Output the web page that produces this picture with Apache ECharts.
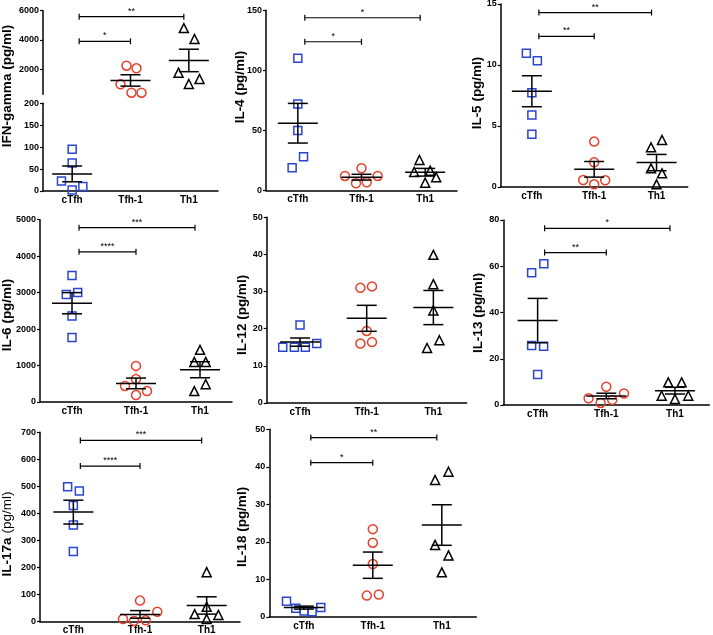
<!DOCTYPE html>
<html><head><meta charset="utf-8">
<script src="https://cdn.jsdelivr.net/npm/echarts@6/dist/echarts.min.js"></script>
<style>html,body{margin:0;padding:0;background:#fff}#c{width:713px;height:635px}</style>
</head><body><div id="c"></div>
<script>
const groups = ['cTfh', 'Tfh-1', 'Th1'];

// IFN-gamma (broken axis)
const ifnG = [[95, 64, 23, 10, 2], [2230, 2050, 955, 380, 380], [4810, 4060, 1750, 976, 1320]];
const ifnGMean = [39, 1220, 2590];
const ifnGSem = [18, 390, 770];
const ifnGSig = [[0, 2, 5590, '**'], [0, 1, 3900, '*']];
const ifnGHighTicks = [2000, 4000, 6000];

const il4 = [[110, 72, 50, 28, 19], [18.5, 12.1, 12.1, 6.0, 6.8], [25.4, 15.4, 16.5, 11, 6.5]];
const il4Mean = [56, 11.1, 15.2];
const il4Sem = [16.5, 2.4, 3.2];
const il4Sig = [[0, 2, 143.8, '*'], [0, 1, 123.8, '*']];

const il5 = [[10.96, 10.35, 7.73, 5.9, 4.32], [3.72, 2.02, 0.57, 0.55, 0.22], [3.85, 3.25, 1.53, 1.12, 0.22]];
const il5Mean = [7.85, 1.45, 2.0];
const il5Sem = [1.27, 0.64, 0.67];
const il5Sig = [[0, 2, 14.3, '**'], [0, 1, 12.35, '**']];

const il6 = [[3470, 2950, 3000, 2360, 1770], [990, 630, 440, 300, 190], [1430, 1100, 1100, 490, 300]];
const il6Mean = [2710, 510, 885];
const il6Sem = [290, 146, 220];
const il6Sig = [[0, 2, 4780, '***'], [0, 1, 4120, '****']];

const il12 = [[21, 15, 15, 15, 16], [31.0, 31.4, 19.4, 16.0, 16.4], [39.9, 32.0, 24.9, 16.9, 14.8]];
const il12Mean = [16.4, 22.8, 25.7];
const il12Sem = [1.1, 3.5, 4.6];
const il12Sig = [];

const il13 = [[61.1, 57.2, 25.7, 25.4, 13.2], [7.9, 5.0, 2.9, 2.2, 0.9], [9.8, 9.8, 4.0, 4.0, 2.6]];
const il13Mean = [36.5, 3.9, 6.2];
const il13Sem = [9.6, 1.2, 1.45];
const il13Sig = [[0, 2, 76.4, '*'], [0, 1, 65.9, '**']];

const il17a = [[499, 483, 429, 357, 259], [78, 37, 10, 3, 5], [183, 55, 28, 25, 10]];
const il17aMean = [405, 27, 60];
const il17aSem = [44, 14, 32];
const il17aSig = [[0, 2, 670, '***'], [0, 1, 575, '****']];

const il18 = [[4.2, 2.3, 1.6, 1.4, 2.5], [23.4, 19.8, 14.1, 5.7, 6.0], [36.5, 38.7, 19.2, 16.4, 11.9]];
const il18Mean = [2.5, 13.8, 24.5];
const il18Sem = [0.4, 3.5, 5.4];
const il18Sig = [[0, 2, 47.8, '**'], [0, 1, 41.1, '*']];

// horizontal spread of points (pixels) - presentation only
const jitter = {
  ifnG: [[0, 0, -10.7, 10.7, 0], [-4, 6, -10, 1, 11], [-5, 5.7, -10.3, 0, 10.7]],
  il4: [[0, 0, 0, 5.7, -5.7], [0, -16.5, 16.2, -5.5, 5.2], [-5.7, -11, 5, 11, 0]],
  il5: [[-5.5, 5.5, 0, 0, 0], [0, 0, -11, 11, 0], [5.5, -5.5, -5.5, 5.5, 0]],
  il6: [[0, -5.7, 5.7, 0, 0], [0, 0, -11, 11, 0], [0, -5.7, 5.7, 5.7, -5.7]],
  il12: [[0, -17.3, -5.7, 5.3, 16.7], [-6.3, 5.3, 0, -6.3, 5.3], [0, 0, 0, 6, -6.3]],
  il13: [[6.2, -6, -6, 6, 0], [0, 17.7, -17.7, 6, -5.7], [-6.7, 6.7, -13.3, 13.3, 0]],
  il17a: [[-5.7, 6, 0, 0, 0], [0, 17.3, -17, -6, 5.7], [0, 0, -12, 11.7, 0]],
  il18: [[-17.3, -8, 0.3, 8.3, 17], [0, 0, 0, -6, 6], [-6.7, 6.7, -6.7, 6.7, 0]]
};

const FONT = '"Liberation Sans", Arial, sans-serif';
const shapes = ['rect', 'circle', 'triangle'];
const colors = ['#2a45d0', '#e5412d', '#000000'];
const sizes = [8, 9, 9];

const option = {
  animation: false, backgroundColor: '#fff',
  grid: [], xAxis: [], yAxis: [], series: [], graphic: []
};

function addGrid(g) {
  const gi = option.grid.length;
  option.grid.push({ left: g.left, top: g.top, width: g.width, height: g.height,
    containLabel: false, outerBoundsMode: 'none' });
  option.xAxis.push({
    type: 'category', gridIndex: gi, data: groups, show: g.showX !== false, boundaryGap: true,
    axisLine: { onZero: false, lineStyle: { color: '#000', width: 1.5 } },
    axisTick: { alignWithLabel: true, length: 3, lineStyle: { color: '#000', width: 1.2 } },
    axisLabel: { color: '#000', fontWeight: 'bold', fontSize: 10, fontFamily: FONT, margin: 4 },
    splitLine: { show: false }
  });
  const y = {
    type: 'value', gridIndex: gi, min: g.min, max: g.max,
    axisLine: { show: true, onZero: false, lineStyle: { color: '#000', width: 1.5 } },
    axisTick: { show: true, length: 3, lineStyle: { color: '#000', width: 1.2 } },
    axisLabel: { color: '#000', fontWeight: 'bold', fontSize: 9, fontFamily: FONT, margin: 4,
      formatter: v => String(v) },
    splitLine: { show: false }
  };
  if (g.ticks) {
    y.axisTick.customValues = g.ticks;
    y.axisLabel.customValues = g.ticks;
  } else {
    y.interval = g.interval;
  }
  option.yAxis.push(y);
  return gi;
}

function addPoints(gi, k, values, jit) {
  option.series.push({
    type: 'scatter', xAxisIndex: gi, yAxisIndex: gi, symbol: shapes[k], symbolSize: sizes[k],
    itemStyle: { color: 'rgba(0,0,0,0)', borderColor: colors[k], borderWidth: 1.5, opacity: 1 },
    data: values.map((v, j) => ({ value: [k, v], symbolOffset: [jit[j], 0] })),
    z: 2, silent: true, clip: false
  });
}

function addMeans(gi, idxs, mean, sem) {
  option.series.push({
    type: 'custom', xAxisIndex: gi, yAxisIndex: gi, clip: false, z: 3, silent: true,
    data: idxs.map(i => [i, mean[i], sem[i]]),
    renderItem(params, api) {
      const i = api.value(0), m = api.value(1), s = api.value(2);
      const c = api.coord([i, m]), u = api.coord([i, m + s]), l = api.coord([i, m - s]);
      const st = { stroke: '#000', lineWidth: 1.5 };
      return { type: 'group', children: [
        { type: 'line', shape: { x1: c[0] - 20, y1: c[1], x2: c[0] + 20, y2: c[1] }, style: st },
        { type: 'line', shape: { x1: u[0], y1: u[1], x2: l[0], y2: l[1] }, style: st },
        { type: 'line', shape: { x1: u[0] - 10, y1: u[1], x2: u[0] + 10, y2: u[1] }, style: st },
        { type: 'line', shape: { x1: l[0] - 10, y1: l[1], x2: l[0] + 10, y2: l[1] }, style: st }
      ] };
    }
  });
}

function addSig(gi, sig) {
  if (!sig.length) return;
  option.series.push({
    type: 'custom', xAxisIndex: gi, yAxisIndex: gi, clip: false, z: 3, silent: true,
    data: sig.map(s => [s[0], s[2]]),
    renderItem(params, api) {
      const s = sig[params.dataIndex];
      const a = api.coord([s[0], s[2]]), b = api.coord([s[1], s[2]]);
      const x1 = a[0] + 7, x2 = b[0] - (s[1] === 2 ? 5 : 0), y = a[1];
      const st = { stroke: '#000', lineWidth: 1.2 };
      return { type: 'group', children: [
        { type: 'line', shape: { x1: x1, y1: y, x2: x2, y2: y }, style: st },
        { type: 'line', shape: { x1: x1, y1: y - 3, x2: x1, y2: y + 3 }, style: st },
        { type: 'line', shape: { x1: x2, y1: y - 3, x2: x2, y2: y + 3 }, style: st },
        { type: 'text', x: (x1 + x2) / 2, y: y - 1,
          style: { text: s[3], font: '9px ' + FONT, fill: '#000', align: 'center', verticalAlign: 'bottom' } }
      ] };
    }
  });
}

function addTitle(text, x, y, rich) {
  const el = { type: 'text', x: x, y: y, rotation: Math.PI / 2,
    style: { text: text, font: 'bold 13.5px ' + FONT, fill: '#000', align: 'center', verticalAlign: 'middle' } };
  if (rich) el.style.rich = rich;
  option.graphic.push(el);
}

function panel(p) {
  const gi = addGrid(p);
  for (let k = 0; k < 3; k++) addPoints(gi, k, p.values[k], p.jit[k]);
  addMeans(gi, [0, 1, 2], p.mean, p.sem);
  addSig(gi, p.sig);
}

// Panel 1: IFN-gamma with broken axis
(function () {
  const low = addGrid({ left: 43, top: 103.3, width: 175, height: 87.7, min: 0, max: 200, interval: 50 });
  const high = addGrid({ left: 43, top: 10.7, width: 175, height: 83.6, min: 270, max: 6000, ticks: ifnGHighTicks, showX: false });
  addPoints(low, 0, ifnG[0], jitter.ifnG[0]);
  addPoints(high, 1, ifnG[1], jitter.ifnG[1]);
  addPoints(high, 2, ifnG[2], jitter.ifnG[2]);
  addMeans(low, [0], ifnGMean, ifnGSem);
  addMeans(high, [1, 2], ifnGMean, ifnGSem);
  addSig(high, ifnGSig);
  addTitle('IFN-gamma (pg/ml)', 7.5, 86);
})();

panel({ left: 266, top: 10.3, width: 191, height: 180.2, min: 0, max: 150, interval: 50,
  values: il4, mean: il4Mean, sem: il4Sem, sig: il4Sig, jit: jitter.il4 });
addTitle('IL-4 (pg/ml)', 240, 87);

panel({ left: 500.7, top: 4, width: 187, height: 183, min: 0, max: 15, interval: 5,
  values: il5, mean: il5Mean, sem: il5Sem, sig: il5Sig, jit: jitter.il5 });
addTitle('IL-5 (pg/ml)', 477, 93);

panel({ left: 40, top: 219.7, width: 192, height: 182.3, min: 0, max: 5000, interval: 1000,
  values: il6, mean: il6Mean, sem: il6Sem, sig: il6Sig, jit: jitter.il6 });
addTitle('IL-6 (pg/ml)', 7, 315);

panel({ left: 266.7, top: 217.3, width: 200, height: 185.7, min: 0, max: 50, interval: 10,
  values: il12, mean: il12Mean, sem: il12Sem, sig: il12Sig, jit: jitter.il12 });
addTitle('IL-12 (pg/ml)', 242, 315);

panel({ left: 503.3, top: 220, width: 206, height: 185, min: 0, max: 80, interval: 20,
  values: il13, mean: il13Mean, sem: il13Sem, sig: il13Sig, jit: jitter.il13 });
addTitle('IL-13 (pg/ml)', 478, 313);

panel({ left: 40, top: 432.3, width: 200, height: 189.4, min: 0, max: 700, interval: 100,
  values: il17a, mean: il17aMean, sem: il17aSem, sig: il17aSig, jit: jitter.il17a });
addTitle('{b|IL-17a }{n|(pg/ml)}', 7, 534, {
  b: { font: 'bold 13.5px ' + FONT, fill: '#000' },
  n: { font: '13.5px ' + FONT, fill: '#000' }
});

panel({ left: 269.3, top: 429.3, width: 207, height: 187.7, min: 0, max: 50, interval: 10,
  values: il18, mean: il18Mean, sem: il18Sem, sig: il18Sig, jit: jitter.il18 });
addTitle('IL-18 (pg/ml)', 242, 527);

const chart = echarts.init(document.getElementById('c'), null, { renderer: 'canvas' });
chart.setOption(option);
</script>
</body></html>
